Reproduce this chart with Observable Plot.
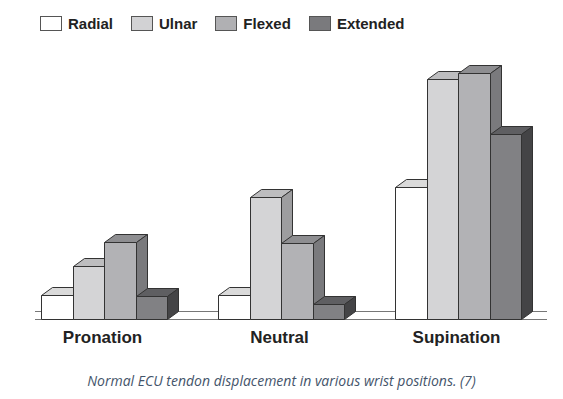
<!DOCTYPE html>
<html>
<head>
<meta charset="utf-8">
<script src="https://cdn.jsdelivr.net/npm/d3@7"></script>
<script src="https://cdn.jsdelivr.net/npm/@observablehq/plot@0.6"></script>
<style>
  html, body { margin: 0; padding: 0; background: #fff; }
  #wrap { width: 563px; height: 399px; position: relative; overflow: hidden; font-family: "Liberation Sans", Arial, sans-serif; }
  #legend { height: 40px; display: flex; align-items: center; padding-left: 40px; padding-top: 6px; box-sizing: border-box; }
  .item { display: flex; align-items: center; margin-right: 18px; font-weight: bold; font-size: 15px; color: #222; }
  .sw { width: 22px; height: 15px; border: 1px solid #555; box-sizing: border-box; margin-right: 6px; }
  #caption { text-align: center; font-family: "Open Sans", sans-serif; font-style: italic; font-size: 14px; color: #44546a; margin-top: 11px; line-height: 20px; }
  svg { display: block; }
</style>
</head>
<body>
<div id="wrap">
  <div id="legend"></div>
  <div id="chart"></div>
  <div id="caption">Normal ECU tendon displacement in various wrist positions. (7)</div>
</div>
<script>
// Data
const groups = ["Pronation", "Neutral", "Supination"];
const series = ["Radial", "Ulnar", "Flexed", "Extended"];
const radial   = [24, 24, 132];
const ulnar    = [53, 122, 240];
const flexed   = [77, 76, 246];
const extended = [23, 15, 185];

// Styles
const frontColors = ["#ffffff", "#d4d4d6", "#b2b2b5", "#818184"];
const topColors   = ["#dadada", "#bdbdbf", "#8e8e91", "#5f5f62"];
const sideColors  = ["#b5b5b5", "#9d9d9f", "#7a7a7d", "#444446"];
const legendColors = ["#ffffff", "#d2d2d4", "#b0b0b3", "#7a7a7d"];
const DX = 11, DY = 8;

const valuesBySeries = [radial, ulnar, flexed, extended];
const rows = [];
groups.forEach((g, gi) => series.forEach((s, si) => rows.push({group: g, series: s, value: valuesBySeries[si][gi]})));

// Legend
const legend = document.getElementById("legend");
series.forEach((s, i) => {
  const it = document.createElement("div"); it.className = "item";
  const sw = document.createElement("div"); sw.className = "sw"; sw.style.background = legendColors[i];
  const tx = document.createElement("span"); tx.textContent = s;
  it.appendChild(sw); it.appendChild(tx); legend.appendChild(it);
});

function render3d(index, scales, values, dims, context) {
  const xs = scales.x, y = scales.y;
  let bw = xs.bandwidth; if (typeof bw === "function") bw = bw();
  const sub = d3.scaleBand(series, [0, bw]).padding(0);
  const g = d3.create("svg:g");
  const pos = i => xs(rows[i].group) + sub(rows[i].series);
  const order = Array.from(index).sort((a, b) => pos(a) - pos(b));
  const snap = v => Math.round(v) + 0.5;
  for (const i of order) {
    const d = rows[i], si = series.indexOf(d.series);
    const x0 = snap(pos(i)), x1 = snap(pos(i) + sub.bandwidth());
    const y0 = snap(y(0)), y1 = snap(y(d.value));
    const poly = (pts, fill) => g.append("polygon")
      .attr("points", pts.map(p => p.join(",")).join(" "))
      .attr("fill", fill).attr("stroke", "#333").attr("stroke-width", 1).attr("stroke-linejoin", "round");
    poly([[x0, y1], [x1, y1], [x1 + DX, y1 - DY], [x0 + DX, y1 - DY]], topColors[si]);
    poly([[x1, y1], [x1 + DX, y1 - DY], [x1 + DX, y0 - DY], [x1, y0]], sideColors[si]);
    poly([[x0, y0], [x0, y1], [x1, y1], [x1, y0]], frontColors[si]);
  }
  return g.node();
}

const chart = Plot.plot({
  width: 563,
  height: 320,
  marginLeft: 35,
  marginRight: 16,
  marginTop: 29,
  marginBottom: 41,
  style: {fontFamily: "'Liberation Sans', Arial, sans-serif", background: "#fff"},
  x: {domain: groups, range: [40, 523], paddingInner: 0.2865, paddingOuter: 0, axis: null},
  y: {domain: [0, 250], axis: null},
  marks: [
    Plot.ruleY([0], {stroke: "#777", strokeWidth: 1, dy: -8}),
    Plot.ruleY([0], {stroke: "#777", strokeWidth: 1}),
    Plot.barY(rows, {x: "group", y1: 0, y2: "value", render: render3d}),
    Plot.axisX({tickSize: 0, tickPadding: 11, fontSize: 17, fontWeight: "bold", fill: "#222", label: null, dx: -2})
  ]
});
document.getElementById("chart").appendChild(chart);
</script>
</body>
</html>
